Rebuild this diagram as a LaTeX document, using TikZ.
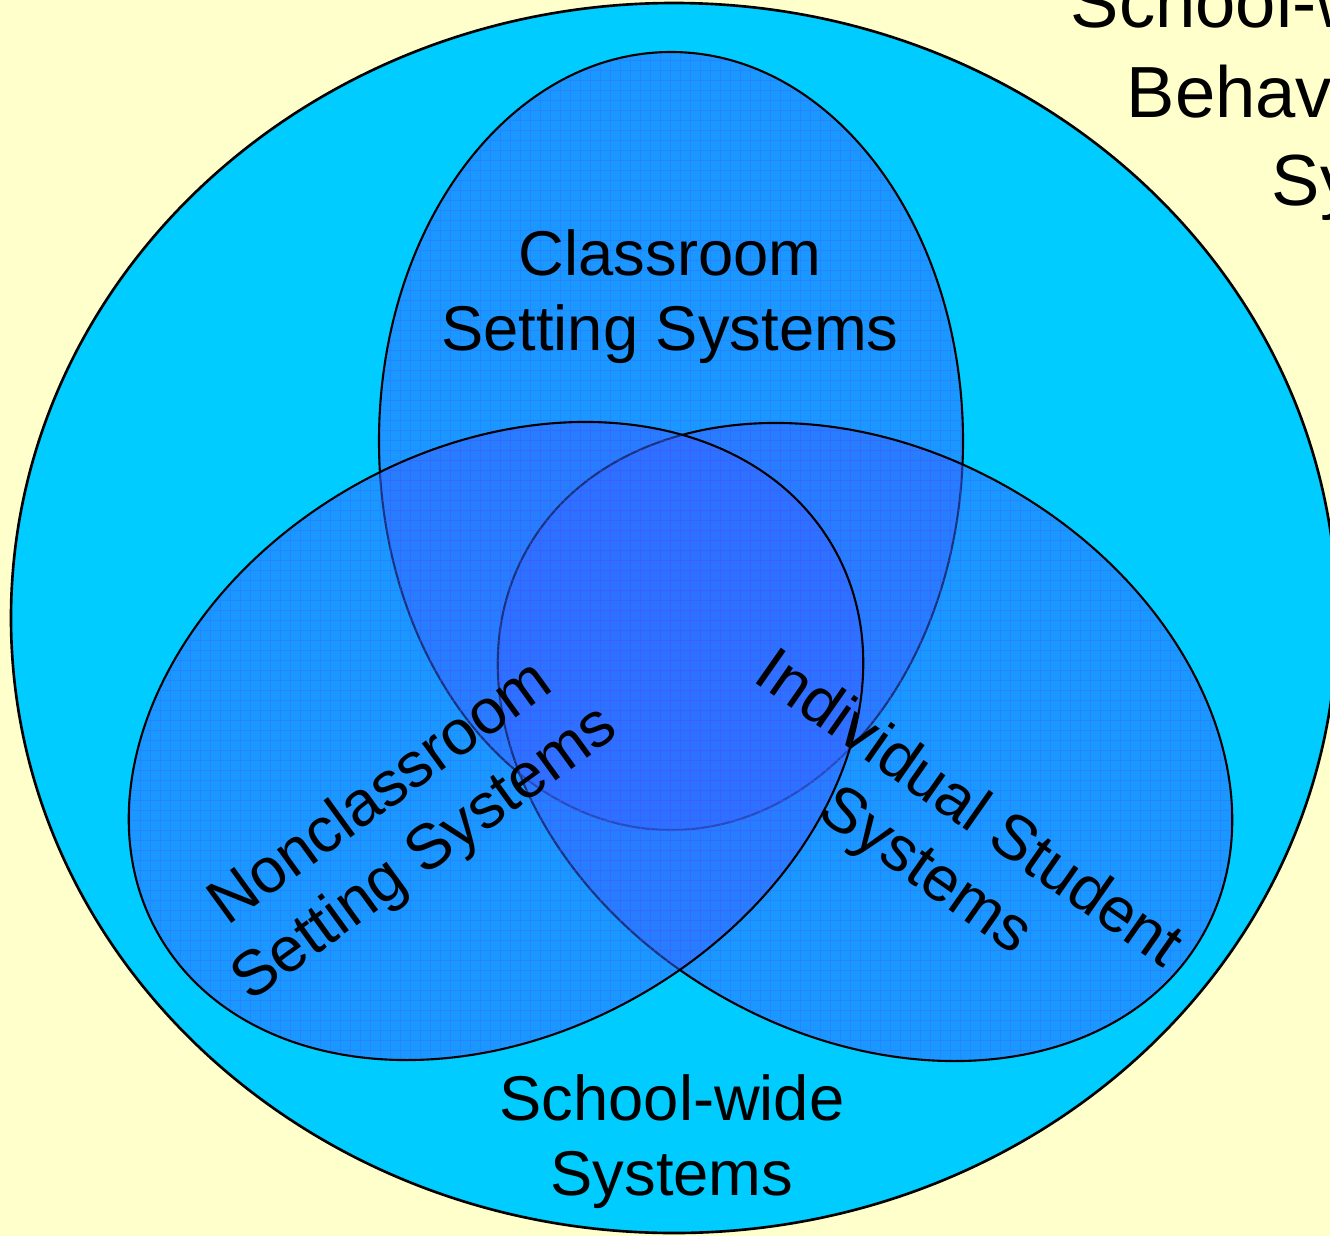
\documentclass[tikz,border=0pt]{standalone}
\usepackage{fontspec}
\setmainfont{Liberation Sans}
\usepackage{xcolor}

\definecolor{paper}{HTML}{FFFFCC}
\definecolor{schoolwide}{HTML}{00CCFF}
\definecolor{setting}{HTML}{3366FF}
\definecolor{mesh}{HTML}{5050FF}

\begin{document}
\begin{tikzpicture}[
  x=0.01cm, y=-0.01cm,
  setting/.style={draw=black, line width=0.6pt, fill=setting, fill opacity=0.5},
  lbl/.style={align=center, inner sep=0pt, font=\fontsize{18}{21.3}\selectfont},
  head/.style={anchor=base west, inner sep=0pt, font=\fontsize{20.6}{25}\selectfont}
]
  \clip (0,0) rectangle (1330,1236);
  \fill[paper] (0,0) rectangle (1330,1236);

  % school-wide systems
  \draw[fill=schoolwide, line width=0.75pt] (674,618) ellipse [x radius=663, y radius=615];

  % classroom, individual student, nonclassroom
  \foreach \cx/\cy/\ang in {671/441/90, 865/742/-30, 496/741/30} {
    \path[setting, rotate around={\ang:(\cx,\cy)}] (\cx,\cy) ellipse [x radius=389, y radius=292];
    \begin{scope}
      \clip[rotate around={\ang:(\cx,\cy)}] (\cx,\cy) ellipse [x radius=388, y radius=291];
      \draw[mesh, opacity=0.3, line width=0.25pt, step=1mm] (0,1236) grid (1330,0);
    \end{scope}
  }

  \node[lbl] (classroom) at (670,297) {Classroom\\Setting Systems};
  \node[lbl, rotate=36] (nonclass) at (404,825) {Nonclassroom\\Setting Systems};
  \node[lbl, rotate=-35] (indiv) at (946,842) {Individual Student\\Systems};
  \node[lbl] (school) at (672,1142) {School-wide\\Systems};

  \node[head] (title1) at (1070,27) {School-wide};
  \node[head] (title2) at (1126,117) {Behavior};
  \node[head] (title3) at (1271,205) {Systems};
\end{tikzpicture}
\end{document}
